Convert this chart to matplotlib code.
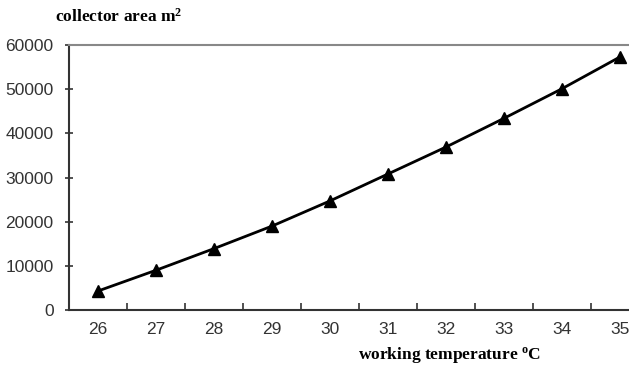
import matplotlib.pyplot as plt
import numpy as np

# Data
temperature = [26, 27, 28, 29, 30, 31, 32, 33, 34, 35]
area = [4300, 9000, 13900, 19000, 24700, 30800, 36900, 43400, 50100, 57300]

plt.rcParams['mathtext.fontset'] = 'custom'
plt.rcParams['mathtext.rm'] = 'Liberation Serif:bold'
plt.rcParams['mathtext.it'] = 'Liberation Serif:bold'
plt.rcParams['mathtext.bf'] = 'Liberation Serif:bold'

fig = plt.figure(figsize=(6.29, 3.69), dpi=100)
# axes run past the right edge of the picture, as in the original
ax = fig.add_axes([69 / 629, 59 / 369, 580 / 629, 265 / 369])

ax.plot(temperature, area, '-^', color='black', lw=2, markersize=8)

ax.set_xlim(25.5, 35.5)
ax.set_ylim(0, 60000)
ax.set_yticks(np.arange(0, 60001, 10000))
ax.set_xticks(temperature)
ax.set_xticks(np.arange(26.5, 35.5, 1), minor=True)

ax.tick_params(axis='x', which='major', length=0, pad=9, labelsize=12.5, labelcolor='#333333')
ax.tick_params(axis='x', which='minor', direction='in', length=5, width=1.2, color='#333333')
ax.tick_params(axis='y', direction='inout', length=6, width=1.2, color='#333333',
               pad=8, labelsize=12.5, labelcolor='#333333')
for lab in ax.get_xticklabels() + ax.get_yticklabels():
    lab.set_family('Liberation Sans')

ax.spines['left'].set_color('#333333')
ax.spines['left'].set_linewidth(1.5)
ax.spines['bottom'].set_color('#333333')
ax.spines['bottom'].set_linewidth(1.5)
ax.spines['top'].set_color('#888888')
ax.spines['top'].set_linewidth(1.5)
ax.spines['right'].set_visible(False)

fig.text(55 / 629, 1 - 17 / 369, 'collector area m$^{2}$', family='Liberation Serif',
         fontweight='bold', fontsize=12.5, va='center', ha='left')
fig.text(541 / 629, 1 - 355 / 369, r'working temperature $^{\mathrm{o}}$C', family='Liberation Serif',
         fontweight='bold', fontsize=12.5, va='center', ha='right')

plt.savefig('out.png', dpi=100)
